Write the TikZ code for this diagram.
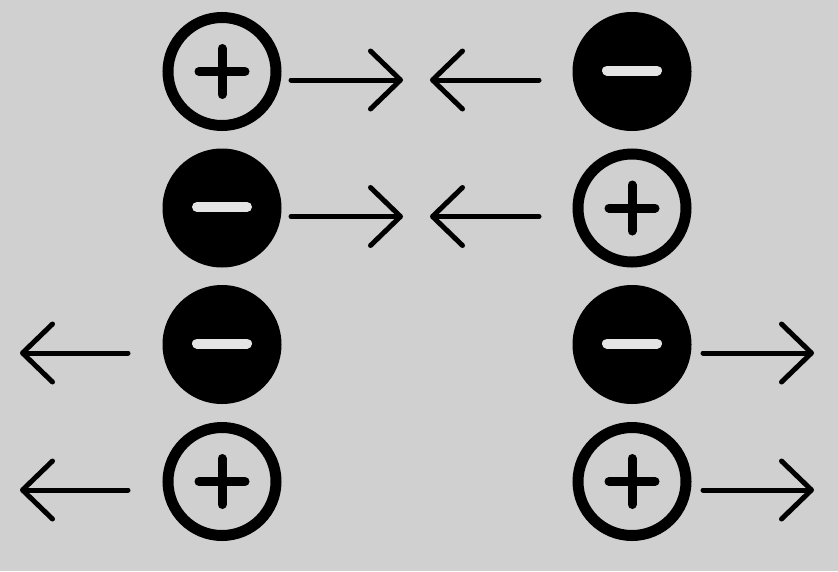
\documentclass[tikz,border=0pt]{standalone}
\usetikzlibrary{arrows.meta}
\definecolor{bg}{HTML}{D0D0D0}
\definecolor{bar}{HTML}{E4E4E4}
\begin{document}
\begin{tikzpicture}[x=1pt,y=-1pt,
  posion/.style={circle, draw=black, line width=11pt, minimum size=108pt, inner sep=0pt, fill=bg},
  negion/.style={circle, fill=black, minimum size=119pt, inner sep=0pt},
  sign/.style={line width=9pt, line cap=round},
  arr/.style={line width=5pt, line cap=round, -{Straight Barb[length=30pt,width=58pt,round]}}]
\fill[bg] (0,0) rectangle (838,571);
\useasboundingbox (0,0) rectangle (838,571);
% ions
\node[posion] (L1) at (222,71.5) {};
\node[negion] (R1) at (632,71.5) {};
\node[negion] (L2) at (222,208) {};
\node[posion] (R2) at (632,208) {};
\node[negion] (L3) at (222,344.5) {};
\node[negion] (R3) at (632,344.5) {};
\node[posion] (L4) at (222,481.5) {};
\node[posion] (R4) at (632,481.5) {};
% plus signs
\foreach \n in {L1,R2,L4,R4}{
  \draw[sign] ([xshift=-23pt]\n.center) -- ([xshift=23pt]\n.center);
  \draw[sign] ([yshift=-23pt]\n.center) -- ([yshift=23pt]\n.center);
}
% minus signs
\foreach \n in {R1,L2,L3,R3}{
  \draw[line width=10pt, line cap=round, bar] ([xshift=-25pt,yshift=1pt]\n.center) -- ([xshift=25pt,yshift=1pt]\n.center);
}
% arrow endpoints
\coordinate (a1s) at (291,80);   \coordinate (a1e) at (403,80);
\coordinate (b1s) at (539,80);   \coordinate (b1e) at (430,80);
\coordinate (a2s) at (291,216.5); \coordinate (a2e) at (403,216.5);
\coordinate (b2s) at (539,216.5); \coordinate (b2e) at (430,216.5);
\coordinate (c3s) at (128,353);  \coordinate (c3e) at (20,353);
\coordinate (d3s) at (703,353);  \coordinate (d3e) at (814,353);
\coordinate (c4s) at (128,490);  \coordinate (c4e) at (20,490);
\coordinate (d4s) at (703,490);  \coordinate (d4e) at (814,490);
\foreach \s/\e in {a1s/a1e,b1s/b1e,a2s/a2e,b2s/b2e,c3s/c3e,d3s/d3e,c4s/c4e,d4s/d4e}
  \draw[arr] (\s) -- (\e);
\end{tikzpicture}
\end{document}
